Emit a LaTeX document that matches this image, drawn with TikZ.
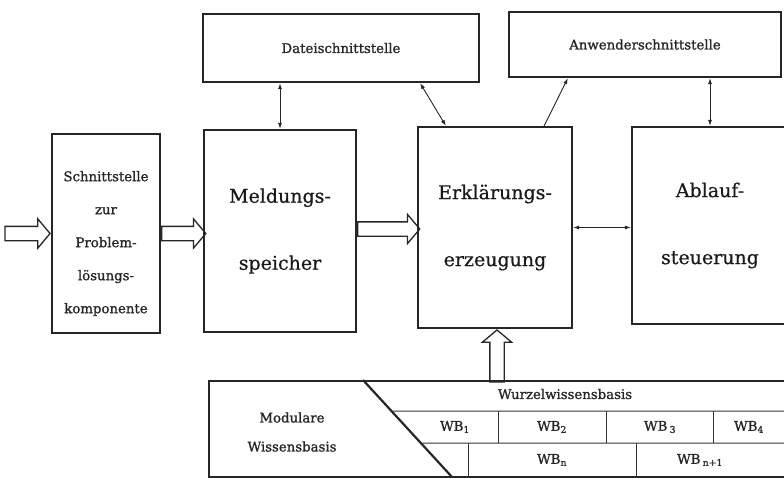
\documentclass[tikz,border=0pt]{standalone}
\usepackage{fontspec}
\setmainfont{DejaVu Serif}
\newfontfamily\halbfett[FakeBold=1.2]{DejaVu Serif}
\newfontfamily\leichtfett[FakeBold=0.5]{DejaVu Serif}
\usepackage{tikz}
\usetikzlibrary{arrows.meta,shapes.arrows,positioning,calc}

\tikzset{
  box/.style={rectangle, draw=black!85, line width=2.2pt, inner sep=0pt, align=center},
  smalltext/.style={font=\halbfett\fontsize{13.3}{33}\selectfont, text=black!85},
  bigtext/.style={font=\leichtfett\fontsize{19}{67}\selectfont, text=black!90},
  link/.style={draw=black!85, line width=0.9pt, {Latex[length=6pt,width=4pt]}-{Latex[length=6pt,width=4pt]}},
  oneway/.style={link, -{Latex[length=6pt,width=4pt]}},
  hollow/.style={single arrow, draw=black!85, line width=1.3pt, inner xsep=0pt, inner ysep=6.5pt,
    single arrow head extend=7.5pt, single arrow tip angle=100, minimum width=0pt}
}

\begin{document}
\begin{tikzpicture}[x=1pt, y=-1pt]
  \useasboundingbox (0,0) rectangle (784,477);
  \clip (0,0) rectangle (784,477);

  % interfaces on top
  \node (datei) [box, smalltext, minimum width=276pt, minimum height=68pt] at (341,48) {Dateischnittstelle};
  \node (anwender) [box, smalltext, minimum width=272pt, minimum height=65pt] at (645,44.5) {Anwenderschnittstelle};

  % main row
  \node (schnitt) [box, minimum width=108pt, minimum height=199pt] at (106,233.5) {};
  \node (schnitttext) [smalltext, align=center] at ($(schnitt)+(0,10)$) {Schnittstelle\\zur\\Problem-\\lösungs-\\komponente};
  \node (meldung) [box, bigtext, minimum width=152pt, minimum height=202pt] at (280,231) {Meldungs-\\speicher};
  \node (erkl) [box, bigtext, minimum width=154pt, minimum height=201pt] at (495,227.5) {Erklärungs-\\erzeugung};
  \node (ablauf) [box, bigtext, minimum width=156pt, minimum height=197pt] at (710,225.5) {Ablauf-\\steuerung};

  % knowledge base (runs off to the right and below)
  \node (wb) [box, minimum width=600pt, minimum height=96pt, anchor=north west] at (208,380) {};
  \coordinate (schraegoben) at (363,380);
  \coordinate (schraegunten) at (452,477);
  \draw[line width=2.2pt, draw=black!85] (schraegoben) -- (schraegunten);
  \draw[line width=1pt, draw=black!80] ($(schraegoben)!0.32!(schraegunten)$) -- (800,411);
  \draw[line width=1pt, draw=black!80] ($(schraegoben)!0.65!(schraegunten)$) -- (800,443);
  \foreach \x in {498,606,713}
    \draw[line width=1pt, draw=black!80] (\x,411) -- (\x,443);
  \foreach \x in {468,636}
    \draw[line width=1pt, draw=black!80] (\x,443) -- (\x,477);

  \node (modular) [smalltext, align=center, font=\halbfett\fontsize{13.3}{29}\selectfont] at (292,432) {Modulare\\Wissensbasis};
  \node (wurzel) [smalltext] at (565,394) {Wurzelwissensbasis};
  \node (wb1) [smalltext] at (455,427) {WB\textsubscript{1}};
  \node (wb2) [smalltext] at (552,427) {WB\textsubscript{2}};
  \node (wb3) [smalltext] at (660,427) {WB\,\textsubscript{3}};
  \node (wb4) [smalltext] at (749,427) {WB\textsubscript{4}};
  \node (wbn) [smalltext] at (552,460) {WB\textsubscript{n}};
  \node (wbn1) [smalltext] at (700,460) {WB\,\textsubscript{n+1}};

  % thin connectors
  \draw[link] (meldung.north) -- (meldung.north |- datei.south);
  \draw[link] ($(datei.south east)+(-60,0)$) -- ($(erkl.north west)+(29,0)$);
  \draw[oneway] ($(erkl.north east)+(-29,0)$) -- ($(anwender.south west)+(60,0)$);
  \draw[link] (ablauf.north) -- (ablauf.north |- anwender.south);
  \draw[link] (erkl.east) -- (erkl.east -| ablauf.west);

  % block arrows
  \node (ein) [hollow, minimum height=45pt, anchor=tip] at (schnitt.west) {};
  \node (pfeil1) [hollow, minimum height=44pt, anchor=tail] at (schnitt.east) {};
  \node (pfeil2) [hollow, minimum height=62pt, anchor=tail] at ($(meldung.east)+(0,-2)$) {};
  \node (pfeil3) [hollow, minimum height=52pt, rotate=90, anchor=tip] at ($(erkl.south)+(2,0)$) {};
\end{tikzpicture}
\end{document}
